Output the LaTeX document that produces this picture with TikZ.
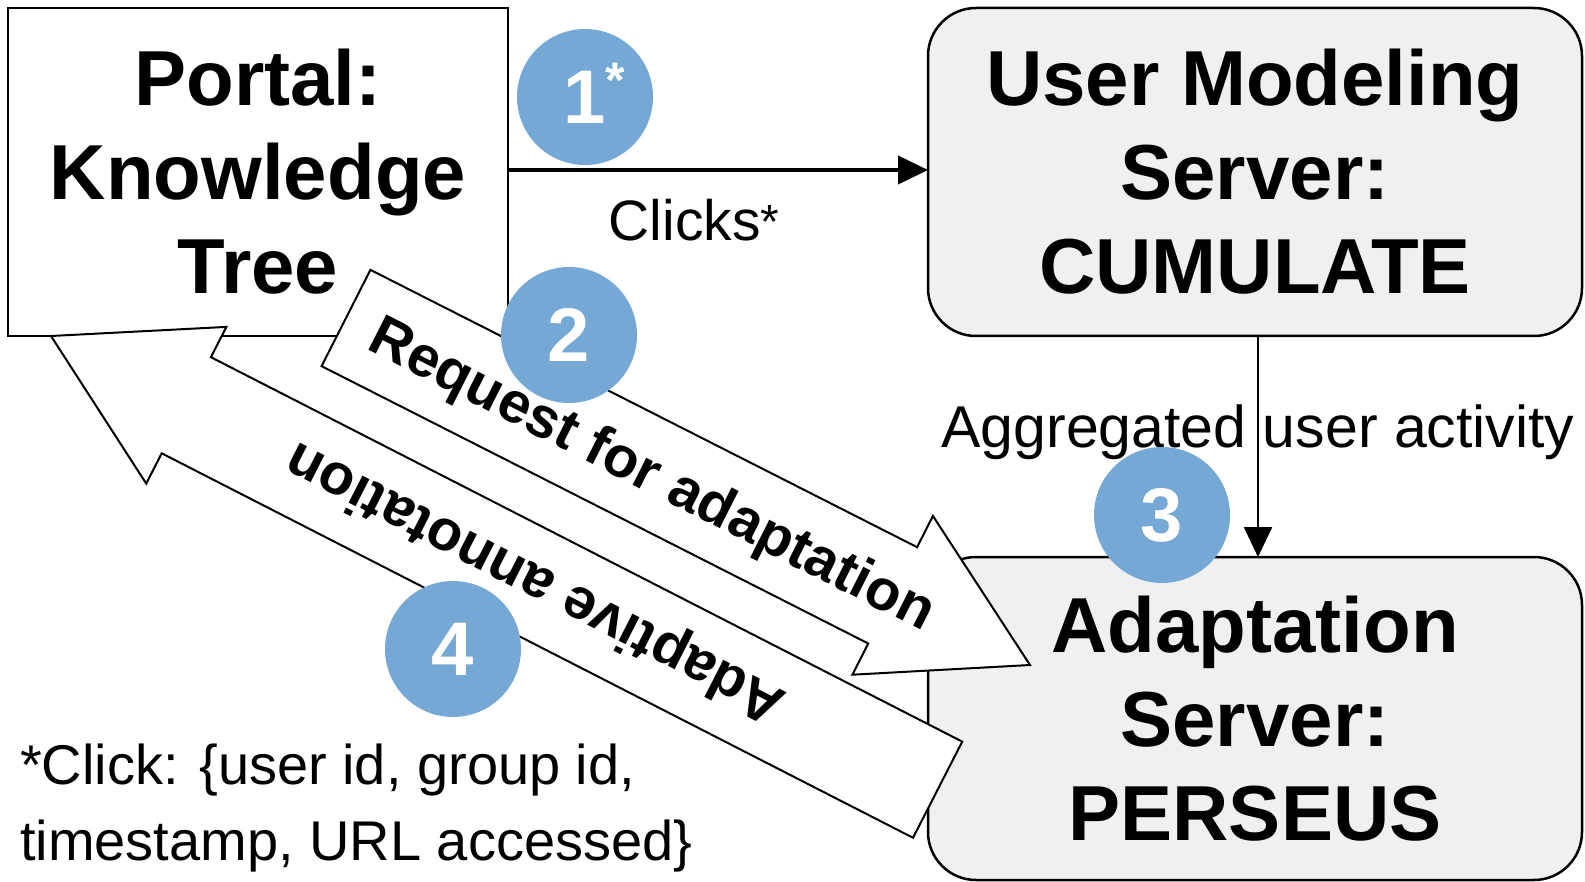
\documentclass[tikz,border=0pt]{standalone}
\usepackage{fontspec}
\setmainfont{Liberation Sans}
\usetikzlibrary{arrows.meta,calc}
\definecolor{numblue}{RGB}{117,168,212}
\definecolor{boxgray}{RGB}{240,240,240}
\begin{document}
\begin{tikzpicture}[x=1pt,y=-1pt,
  every node/.style={inner sep=0pt, outer sep=0pt},
  mainbox/.style={draw=black, line width=2.5pt, align=center, font=\fontsize{78}{94}\selectfont\bfseries},
  roundbox/.style={mainbox, fill=boxgray, rounded corners=48pt},
  numcircle/.style={circle, fill=numblue, minimum size=136pt, text=white, font=\fontsize{76}{76}\selectfont\bfseries},
  flowlabel/.style={font=\fontsize{57}{68}\selectfont},
  blockarrow/.style={draw=black, line width=2pt, fill=white, line join=miter},
  blocktext/.style={font=\fontsize{57.5}{70}\selectfont\bfseries},
  conn/.style={-{Triangle[length=30pt,width=28pt]}}
]
\useasboundingbox (0,0) rectangle (1585,882);

% boxes
\node[mainbox, minimum width=500pt, minimum height=328pt] (portal) at (258,172) {Portal:\\Knowledge\\Tree};
\node[roundbox, minimum width=654pt, minimum height=328pt] (ums) at (1255,172) {User Modeling\\Server:\\CUMULATE};
\node[roundbox, minimum width=654pt, minimum height=323pt] (ada) at (1255,718.5) {Adaptation\\Server:\\PERSEUS};

% connectors
\draw[conn, line width=4pt] ([yshift=2pt]portal.east) -- ([yshift=2pt]ums.west);
\node[flowlabel, anchor=base] (clk) at (694,241) {Clicks\raisebox{2pt}{\fontsize{48}{48}\selectfont *}};
\draw[conn, line width=2.5pt] ([xshift=3pt]ums.south) -- ([xshift=3pt]ada.north);
\node[font=\fontsize{59}{70}\selectfont, anchor=base] (agg) at (1258,447) {Aggregated user activity};

% block arrows
\coordinate (reqtail) at (346,318);
\draw[blockarrow, shift={(reqtail)}, rotate=-26.9]
  (0,-54) -- (613,-54) -- (613,-89) -- (767,0) -- (613,89) -- (613,54) -- (0,54) -- cycle;
\node[blocktext, rotate=-26.9] (reqtext) at (651,477) {Request for adaptation};

\coordinate (anntip) at (51,336);
\draw[blockarrow, shift={(anntip)}, rotate=-27.1]
  (0,0) -- (152,-88) -- (152,-54) -- (996,-54) -- (996,54) -- (152,54) -- (152,88) -- cycle;
\node[blocktext, rotate=152.9] (anntext) at (536,581) {Adaptive annotation};

% numbered circles
\node[numcircle] (n1) at (585,97) {\hspace*{18pt}1\smash{\raisebox{26pt}{\fontsize{50}{50}\selectfont *}}};
\node[numcircle] (n2) at (569,335) {2};
\node[numcircle] (n3) at (1162,515) {3};
\node[numcircle] (n4) at (453,649) {4};

% footnote
\node[align=left, anchor=west, font=\fontsize{56}{76}\selectfont] (note) at (20,808.5) {*Click: \{user id, group id,\\timestamp, URL accessed\}};
\end{tikzpicture}
\end{document}
